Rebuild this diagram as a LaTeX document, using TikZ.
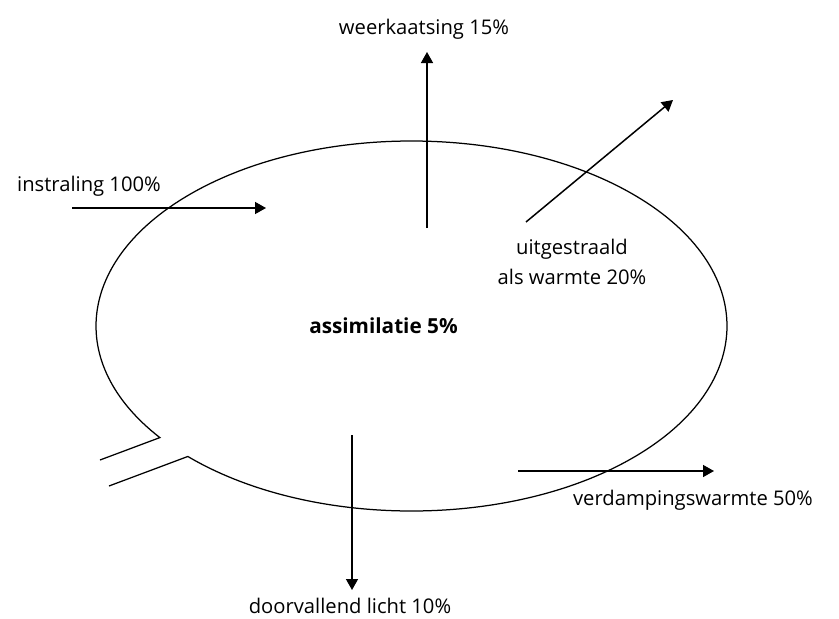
\documentclass[tikz,border=0pt]{standalone}
\usepackage{fontspec}
\setmainfont{Open Sans}
\usetikzlibrary{arrows.meta}

\begin{document}
\begin{tikzpicture}[x=0.02cm,y=-0.02cm,line width=.3mm,
    flow/.style={-{Triangle[length=2.2mm,width=2.4mm]}},
    lbl/.style={inner sep=0pt,anchor=base,font=\fontsize{11.5}{17}\selectfont}]
  \pgfmathsetmacro{\rx}{315.5}
  \pgfmathsetmacro{\ry}{185}
  \useasboundingbox (0,0) rectangle (839,619);

  % leaf with its stem
  \coordinate (C) at (411.5,326);
  \coordinate (S0) at (100,460);
  \coordinate (S1) at (109,486);
  \coordinate (J1) at ([shift={(135.15:315.5 and 185)}]C);
  \draw[line width=.25mm] (S1) -- (J1)
    arc[start angle=135.15, end angle=-217.1, x radius=\rx, y radius=\ry] -- (S0);

  \node[lbl] (refl) at (424,34) {weerkaatsing 15\%};
  \node[lbl] (inst) at (89,191) {instraling 100\%};
  \node[lbl,anchor=center,align=center] (heat) at (572,262) {uitgestraald\\als warmte 20\%};
  \node[lbl,font=\fontsize{11.8}{17}\selectfont\bfseries] (assim) at (383.5,333) {assimilatie 5\%};
  \node[lbl] (evap) at (693,505) {verdampingswarmte 50\%};
  \node[lbl] (trans) at (350,613) {doorvallend licht 10\%};

  \coordinate (reflA) at (427,228);
  \coordinate (reflB) at (427,52);
  \coordinate (instA) at (72,208);
  \coordinate (instB) at (266,208);
  \coordinate (heatA) at (526,222);
  \coordinate (heatB) at (673,100);
  \coordinate (transA) at (352,435);
  \coordinate (transB) at (352,590);
  \coordinate (evapA) at (518,471);
  \coordinate (evapB) at (714,471);

  \draw[flow] (reflA) -- (reflB);
  \draw[flow] (instA) -- (instB);
  \draw[flow] (heatA) -- (heatB);
  \draw[flow] (transA) -- (transB);
  \draw[flow] (evapA) -- (evapB);
\end{tikzpicture}
\end{document}
